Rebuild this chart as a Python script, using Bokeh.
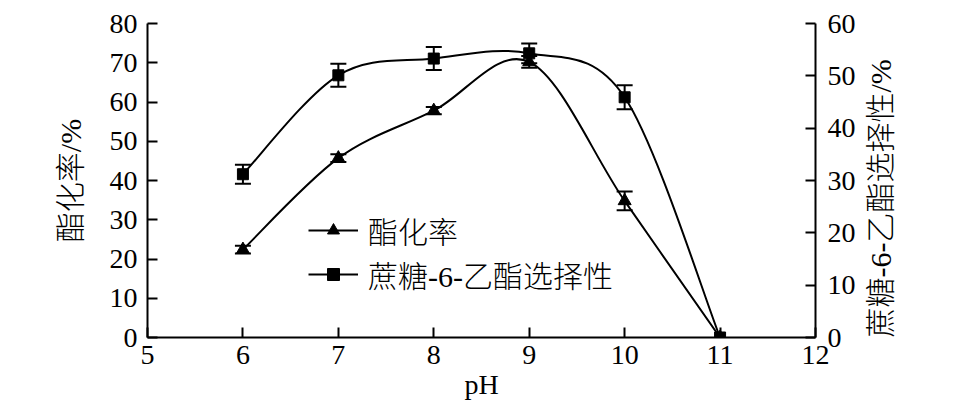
import math
from bokeh.plotting import figure
from bokeh.models import (Range1d, LinearAxis, Whisker, ColumnDataSource, Legend,
                          LegendItem, FixedTicker, TeeHead)
from bokeh.embed import file_html
from bokeh.resources import INLINE

# ---- data ----
ph = [6, 7, 8, 9, 10, 11]
esterification = [22.4, 45.7, 57.8, 70.2, 34.8, 0.0]        # 酯化率 (left axis, %)
esterification_err = [1.0, 1.0, 0.9, 1.5, 2.4, 0.0]
selectivity = [31.2, 50.1, 53.3, 54.3, 45.9, 0.0]           # 蔗糖-6-乙酯选择性 (right axis, %)
selectivity_err = [1.8, 2.2, 2.2, 1.9, 2.3, 0.0]

x_ticks = [5, 6, 7, 8, 9, 10, 11, 12]
left_ticks = [0, 10, 20, 30, 40, 50, 60, 70, 80]
right_ticks = [0, 10, 20, 30, 40, 50, 60]

label_ester = "酯化率"
label_select = "蔗糖-6-乙酯选择性"
x_title = "pH"
left_title = "酯化率/%"
right_title = "蔗糖-6-乙酯选择性/%"

SERIF = "Liberation Serif"
MIXED = "Liberation Serif, Noto Sans CJK SC Light, Noto Sans CJK SC"
FS = "28px"
FS_TITLE = "30px"

W, H = 957, 413
BL, BR, BT, BB = 147, 142, 23, 76


def catmull_bezier(xs, ys):
    """Catmull-Rom smoothing expressed as cubic Bezier segments."""
    n = len(xs)
    d = dict(x0=[], y0=[], x1=[], y1=[], cx0=[], cy0=[], cx1=[], cy1=[])
    for i in range(n - 1):
        a = max(i - 1, 0)
        b = min(i + 2, n - 1)
        d["x0"].append(xs[i]); d["y0"].append(ys[i])
        d["x1"].append(xs[i + 1]); d["y1"].append(ys[i + 1])
        d["cx0"].append(xs[i] + (xs[i + 1] - xs[a]) / 6.0)
        d["cy0"].append(ys[i] + (ys[i + 1] - ys[a]) / 6.0)
        d["cx1"].append(xs[i + 1] - (xs[b] - xs[i]) / 6.0)
        d["cy1"].append(ys[i + 1] - (ys[b] - ys[i]) / 6.0)
    return ColumnDataSource(d)


p = figure(width=W, height=H, x_range=Range1d(5, 12), y_range=Range1d(0, 80),
           output_backend="svg", toolbar_location=None,
           min_border_left=BL, min_border_right=BR, min_border_top=BT, min_border_bottom=BB)
p.extra_y_ranges = {"right": Range1d(0, 60)}
p.add_layout(LinearAxis(y_range_name="right"), "right")

p.xgrid.visible = False
p.ygrid.visible = False
p.outline_line_color = None
p.background_fill_color = "white"
p.border_fill_color = "white"

for ax in p.axis:
    ax.axis_line_width = 2
    ax.axis_line_color = "black"
    ax.major_tick_in = 10
    ax.major_tick_out = 0
    ax.major_tick_line_width = 2
    ax.major_tick_line_color = "black"
    ax.minor_tick_in = 0
    ax.minor_tick_out = 0
    ax.major_label_text_font = SERIF
    ax.major_label_text_font_size = FS
    ax.major_label_text_color = "black"
    ax.axis_label_text_font = MIXED
    ax.axis_label_text_font_size = FS_TITLE
    ax.axis_label_text_font_style = "normal"
    ax.axis_label_text_color = "black"

p.xaxis.ticker = FixedTicker(ticks=x_ticks, minor_ticks=[])
p.xaxis.axis_label = x_title
p.xaxis.axis_label_text_font_size = FS
p.xaxis.major_label_standoff = 8
p.xaxis.axis_label_standoff = 2

p.yaxis[0].ticker = FixedTicker(ticks=left_ticks, minor_ticks=[])
p.yaxis[0].axis_label = left_title
p.yaxis[0].major_label_standoff = 10
p.yaxis[0].axis_label_standoff = 20

ra = p.yaxis[1]
ra.ticker = FixedTicker(ticks=right_ticks, minor_ticks=[])
ra.major_label_standoff = 12
ra.axis_label = right_title
ra.axis_label_standoff = 22
ra.axis_label_orientation = math.pi / 2     # read bottom-to-top, as in the reference
try:
    ra.axis_label_align = "start"
except Exception:
    pass

# smooth curves
p.bezier(x0="x0", y0="y0", x1="x1", y1="y1", cx0="cx0", cy0="cy0", cx1="cx1", cy1="cy1",
         source=catmull_bezier(ph, esterification), line_color="black", line_width=2)
p.bezier(x0="x0", y0="y0", x1="x1", y1="y1", cx0="cx0", cy0="cy0", cx1="cx1", cy1="cy1",
         source=catmull_bezier(ph, selectivity), line_color="black", line_width=2,
         y_range_name="right")


def err_source(xs, ys, es):
    xx, lo, hi = [], [], []
    for x, y, e in zip(xs, ys, es):
        if e > 0:
            xx.append(x); lo.append(y - e); hi.append(y + e)
    return ColumnDataSource(dict(x=xx, lo=lo, hi=hi))


w1 = Whisker(base="x", lower="lo", upper="hi", source=err_source(ph, esterification, esterification_err),
             line_width=2, line_color="black",
             upper_head=TeeHead(size=16, line_width=2, line_color="black"),
             lower_head=TeeHead(size=16, line_width=2, line_color="black"))
w2 = Whisker(base="x", lower="lo", upper="hi", source=err_source(ph, selectivity, selectivity_err),
             line_width=2, line_color="black", y_range_name="right",
             upper_head=TeeHead(size=16, line_width=2, line_color="black"),
             lower_head=TeeHead(size=16, line_width=2, line_color="black"))
p.add_layout(w1)
p.add_layout(w2)

tri = p.scatter(ph, esterification, marker="triangle", size=13, fill_color="black", line_color="black")
sq = p.scatter(ph, selectivity, marker="square", size=11, fill_color="black", line_color="black",
               y_range_name="right")

nan = float("nan")
leg_l1 = p.line([nan], [nan], line_color="black", line_width=2)
leg_l2 = p.line([nan], [nan], line_color="black", line_width=2)

legend = Legend(items=[LegendItem(label=label_ester, renderers=[leg_l1, tri]),
                       LegendItem(label=label_select, renderers=[leg_l2, sq])],
                location=(161, 41), orientation="vertical",
                label_text_font=MIXED, label_text_font_size="30px", label_text_color="black",
                glyph_width=50, glyph_height=30, label_height=37, spacing=0,
                padding=0, margin=0, label_standoff=10,
                border_line_color=None, background_fill_alpha=0)
p.add_layout(legend, "center")

open("out.html", "w").write(file_html(p, INLINE))
